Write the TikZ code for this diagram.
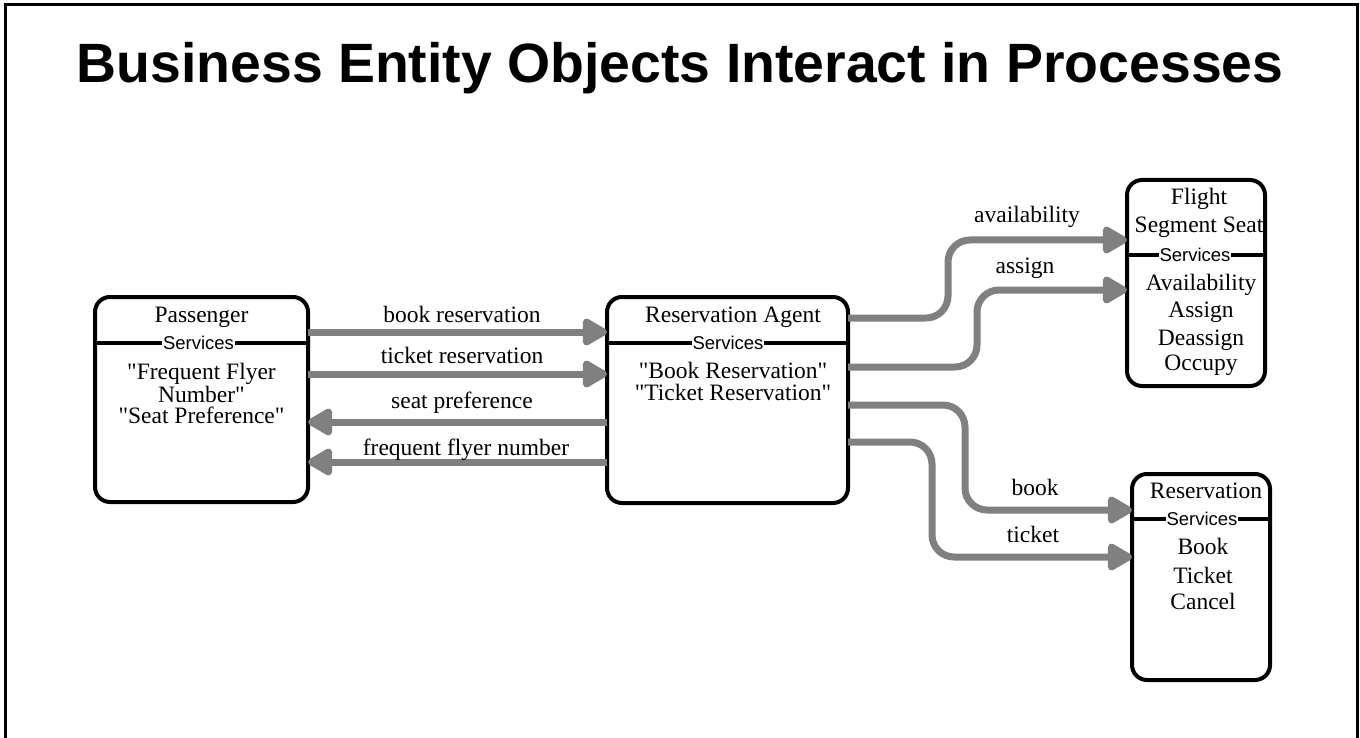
\documentclass[tikz,border=0pt]{standalone}
\usepackage{fontspec}
\setmainfont{Liberation Serif}[Ligatures=TeXOff]
\setsansfont{Liberation Sans}
\usetikzlibrary{arrows.meta}
\begin{document}
\begin{tikzpicture}[x=1pt,y=-1pt,
  box/.style={draw,line width=4pt,rounded corners=15pt,outer sep=0pt,inner sep=0pt},
  txt/.style={anchor=base,inner sep=0pt,font=\fontsize{23.5}{24}\selectfont},
  svc/.style={fill=white,inner sep=1pt,font=\sffamily\fontsize{18.5}{19}\selectfont},
  flow/.style={draw=gray,line width=7pt,-{Triangle[length=28pt,width=30pt,round]},rounded corners=22pt}]
\useasboundingbox (0,0) rectangle (1360,738);
\draw[line width=3pt] (5,738) -- (5,5) -- (1357,5) -- (1357,738);
\node[anchor=base,font=\sffamily\bfseries\fontsize{55.4}{60}\selectfont] (title) at (680,83) {Business Entity Objects Interact in Processes};
% object boxes
\node[box,minimum width=213,minimum height=205] (pass) at (201.5,399.5) {};
\node[box,minimum width=241,minimum height=206] (agent) at (727.5,400) {};
\node[box,minimum width=138,minimum height=206] (fss) at (1196,283) {};
\node[box,minimum width=138,minimum height=206] (res) at (1201,577) {};
% service dividers
\foreach \b/\y/\x in {pass/343/198.5,agent/343/728,fss/255/1195,res/519/1202} {
  \draw[line width=3.5pt] (\b.west|-0,\y) -- (\b.east|-0,\y);
  \node[svc] (\b svc) at (\x,\y) {Services};
}
% box texts
\foreach \t/\x/\y [count=\i] in {Passenger/201.5/322,"Frequent Flyer/201.5/379,Number"/201.5/402,"Seat Preference"/201.5/423,
  Reservation Agent/733/322,"Book Reservation"/733/378,"Ticket Reservation"/733/400,
  Flight/1199/205,Segment Seat/1199/233,Availability/1201/290,Assign/1201/317,Deassign/1201/345,Occupy/1201/370,
  Reservation/1206/498,Book/1203/554,Ticket/1203/583,Cancel/1203/609}
  \node[txt] (t\i) at (\x,\y) {\t};
% messages
\draw[flow] (pass.east|-0,332) -- (agent.west|-0,332);
\draw[flow] (pass.east|-0,374) -- (agent.west|-0,374);
\draw[flow] (agent.west|-0,422) -- (pass.east|-0,422);
\draw[flow] (agent.west|-0,462) -- (pass.east|-0,462);
\draw[flow] (agent.east|-0,318) -- (948,318) -- (948,240) -- (fss.west|-0,240);
\draw[flow] (agent.east|-0,367) -- (977,367) -- (977,290) -- (fss.west|-0,290);
\draw[flow] (agent.east|-0,405) -- (965,405) -- (965,510) -- (res.west|-0,510);
\draw[flow] (agent.east|-0,442) -- (932,442) -- (932,557) -- (res.west|-0,557);
\foreach \t/\x/\y [count=\i] in {book reservation/462/322,ticket reservation/462/363,seat preference/462/408,frequent flyer number/466/455,
  availability/1027/223,assign/1025/273,book/1035/495,ticket/1033/542}
  \node[txt] (l\i) at (\x,\y) {\t};
\end{tikzpicture}
\end{document}
